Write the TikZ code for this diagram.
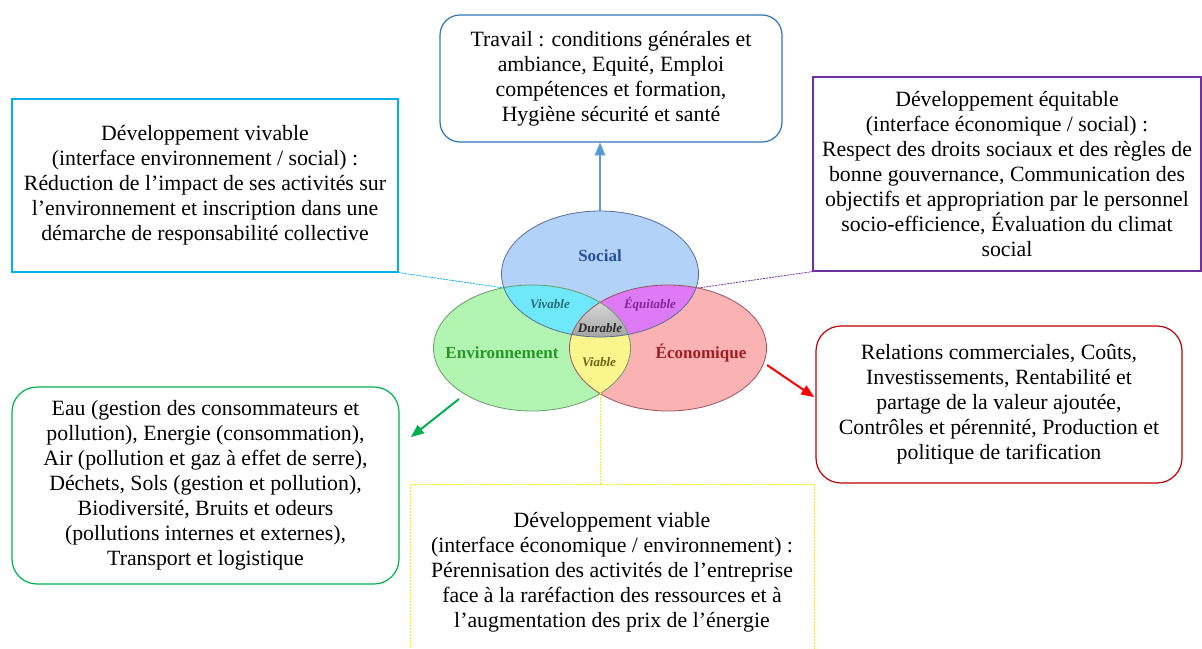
\documentclass[tikz,border=0pt]{standalone}
\usepackage{fontspec}
\setmainfont{Liberation Serif}
\usetikzlibrary{arrows}

\definecolor{travailblue}{RGB}{46,117,182}
\definecolor{arrowblue}{RGB}{91,155,213}
\definecolor{vivcyan}{RGB}{0,176,240}
\definecolor{equipurple}{RGB}{112,48,160}
\definecolor{envgreen}{RGB}{0,176,80}
\definecolor{ecored}{RGB}{192,0,0}
\definecolor{viayellow}{RGB}{255,240,0}
\definecolor{socfill}{RGB}{178,210,250}
\definecolor{envfill}{RGB}{178,245,178}
\definecolor{ecofill}{RGB}{250,178,178}
\definecolor{vivfill}{RGB}{110,232,250}
\definecolor{equifill}{RGB}{222,122,246}
\definecolor{viafill}{RGB}{250,245,140}
\definecolor{socline}{RGB}{85,110,150}
\definecolor{envline}{RGB}{105,155,105}
\definecolor{ecoline}{RGB}{150,85,95}

\begin{document}
\begin{tikzpicture}[x=1pt,y=-1pt,>=triangle 45,
  box/.style={draw,line width=1.2pt,align=center,inner sep=0pt,
    font=\fontsize{21.8}{25}\selectfont},
  circlabel/.style={font=\fontsize{17}{17}\selectfont\bfseries},
  zonelabel/.style={font=\fontsize{13}{13}\selectfont\bfseries\itshape},
  link/.style={dashed,line width=0.8pt,dash pattern=on 2pt off 1pt}]

  \clip (0,0) rectangle (1202,648);
  \fill[white] (0,0) rectangle (1202,648);

  % cercles du developpement durable
  \coordinate (socC) at (600,274);
  \coordinate (envC) at (532,348);
  \coordinate (ecoC) at (668,348);

  \fill[socfill] (socC) ellipse [x radius=98.5, y radius=63];
  \fill[envfill] (envC) ellipse [x radius=98.5, y radius=63];
  \fill[ecofill] (ecoC) ellipse [x radius=98.5, y radius=63];
  \begin{scope}
    \clip (socC) ellipse [x radius=98.5, y radius=63];
    \fill[vivfill] (envC) ellipse [x radius=98.5, y radius=63];
    \fill[equifill] (ecoC) ellipse [x radius=98.5, y radius=63];
  \end{scope}
  \begin{scope}
    \clip (envC) ellipse [x radius=98.5, y radius=63];
    \fill[viafill] (ecoC) ellipse [x radius=98.5, y radius=63];
    \clip (ecoC) ellipse [x radius=98.5, y radius=63];
    \shade[inner color=white,outer color=black!35] (socC) ellipse [x radius=98.5, y radius=63];
  \end{scope}
  \draw[socline,line width=0.8pt] (socC) ellipse [x radius=98.5, y radius=63];
  \draw[envline,line width=0.8pt] (envC) ellipse [x radius=98.5, y radius=63];
  \draw[ecoline,line width=0.8pt] (ecoC) ellipse [x radius=98.5, y radius=63];

  \node[circlabel,text={rgb,255:red,40;green,80;blue,150}]  (socLabel) at (600,256) {Social};
  \node[circlabel,text={rgb,255:red,40;green,150;blue,40}]  (envLabel) at (502,353) {Environnement};
  \node[circlabel,text={rgb,255:red,160;green,30;blue,35}]  (ecoLabel) at (701,353) {Économique};
  \node[zonelabel,text={rgb,255:red,40;green,110;blue,120}] (vivLabel) at (550,304) {Vivable};
  \node[zonelabel,text={rgb,255:red,130;green,40;blue,150}] (equiLabel) at (650,304) {Équitable};
  \node[zonelabel,text={rgb,255:red,40;green,40;blue,40}]   (durLabel) at (600,328) {Durable};
  \node[zonelabel,text={rgb,255:red,110;green,100;blue,20}] (viaLabel) at (599,362) {Viable};

  % points d'accroche
  \coordinate (socTop) at (600,211);
  \coordinate (vivPt) at (504,288);
  \coordinate (equiPt) at (698,288);
  \coordinate (viaPt) at (600,392);
  \coordinate (envPt) at (459,399);
  \coordinate (envTip) at (411,437);
  \coordinate (ecoPt) at (767,365);
  \coordinate (ecoTip) at (814,397);

  % boites
  \node[box,draw=travailblue,rounded corners=20pt,minimum width=342pt,minimum height=127pt]
    (travail) at (611,78.5) {Travail : conditions générales et\\ambiance, Equité, Emploi\\compétences et formation,\\Hygiène sécurité et santé};
  \node[box,draw=vivcyan,minimum width=386pt,minimum height=173pt]
    (vivable) at (205,185.5) {Développement vivable\\ (interface environnement / social) :\\Réduction de l’impact de ses activités sur\\l’environnement et inscription dans une\\démarche de responsabilité collective};
  \node[box,draw=equipurple,minimum width=388pt,minimum height=194pt]
    (equitable) at (1007,174) {Développement équitable\\(interface économique / social) :\\Respect des droits sociaux et des règles de\\bonne gouvernance, Communication des\\objectifs et appropriation par le personnel\\socio-efficience, Évaluation du climat\\social};
  \node[box,draw=envgreen,rounded corners=25pt,minimum width=387pt,minimum height=197pt]
    (environ) at (205.5,485.5) {Eau (gestion des consommateurs et\\pollution), Energie (consommation),\\Air (pollution et gaz à effet de serre),\\Déchets, Sols (gestion et pollution),\\Biodiversité, Bruits et odeurs\\(pollutions internes et externes),\\Transport et logistique};
  \node[box,draw=ecored,rounded corners=25pt,minimum width=366pt,minimum height=157pt]
    (econ) at (999,404.5) {Relations commerciales, Coûts,\\Investissements, Rentabilité et\\partage de la valeur ajoutée,\\Contrôles et pérennité, Production et\\politique de tarification};
  \node[box,draw=viayellow,link,line width=1pt,minimum width=404pt,minimum height=176pt]
    (viable) at (612,572) {Développement viable\\(interface économique / environnement) :\\Pérennisation des activités de l’entreprise\\face à la raréfaction des ressources et à\\l’augmentation des prix de l’énergie};

  % liaisons
  \draw[->,arrowblue,line width=2pt] (socTop) -- (socTop |- travail.south);
  \draw[->,envgreen,line width=2pt] (envPt) -- (envTip);
  \draw[->,red,line width=2pt] (ecoPt) -- (ecoTip);
  \draw[link,vivcyan] (vivable.south east) -- (vivPt);
  \draw[link,equipurple] (equitable.south west) -- (equiPt);
  \draw[link,viayellow] (viaPt) -- (viaPt |- viable.north);

\end{tikzpicture}
\end{document}
